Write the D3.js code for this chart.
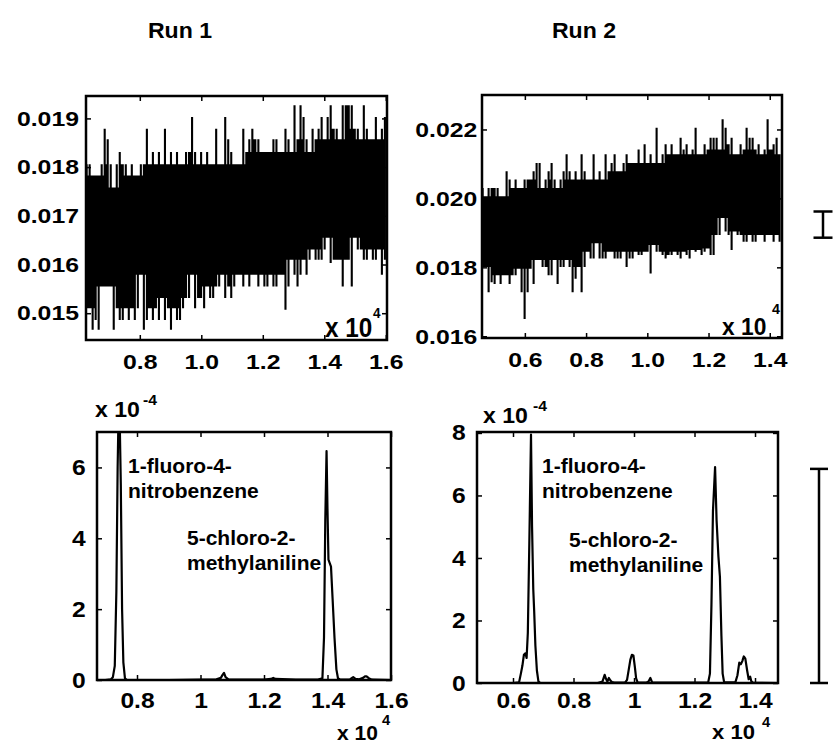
<!DOCTYPE html>
<html><head><meta charset="utf-8">
<script src="https://cdn.jsdelivr.net/npm/d3@7"></script>
<style>
body{margin:0;background:#fff}
svg text{font-family:"Liberation Sans",Arial,Helvetica,sans-serif;font-weight:bold;fill:#000}
</style></head><body>
<svg id="chart" width="835" height="745"></svg>
<script>
// ---------------- DATA ----------------
const titles = ["Run 1", "Run 2"];

// Top row: raw detector signal (x in units of 10^4), sampled at constant step
const run1Sampling = {start: 0.627, step: 0.0098};
const run1Upper = [0.01806,0.01806,0.01783,0.01783,0.01783,0.01806,0.01879,0.01857,0.01806,0.01758,
0.01806,0.01831,0.01806,0.01806,0.01783,0.01806,0.01783,0.01783,0.01806,0.01806,
0.01879,0.01806,0.01831,0.01806,0.01831,0.01806,0.01879,0.01806,0.01831,0.01806,
0.01831,0.01806,0.01806,0.01831,0.01831,0.01903,0.01831,0.01806,0.01831,0.01806,
0.01831,0.01806,0.01806,0.01879,0.01806,0.01806,0.01903,0.01857,0.01831,0.01806,
0.01806,0.01806,0.01879,0.01831,0.01857,0.01879,0.01857,0.01857,0.01831,0.01831,
0.01831,0.01831,0.01857,0.01857,0.01831,0.01831,0.01879,0.01857,0.01831,0.01927,
0.01857,0.01927,0.01903,0.01857,0.01831,0.01879,0.01857,0.01879,0.01903,0.01857,
0.01903,0.01927,0.01879,0.01879,0.01857,0.01927,0.01927,0.01927,0.01927,0.01879,
0.01879,0.01857,0.01927,0.01879,0.01857,0.01857,0.01903,0.01857,0.01879,0.01903];
const run1Lower = [0.0151,0.0151,0.01466,0.01486,0.01466,0.01555,0.01555,0.01555,0.01555,0.01466,
0.0151,0.01486,0.01486,0.0151,0.01486,0.0151,0.01486,0.0151,0.01579,0.01466,
0.01486,0.0151,0.01486,0.0151,0.01486,0.01531,0.01486,0.0151,0.01466,0.0151,
0.01486,0.01486,0.0151,0.01531,0.01531,0.01579,0.0151,0.01531,0.01531,0.0151,
0.01555,0.01531,0.01531,0.01555,0.01555,0.01579,0.01531,0.01555,0.01531,0.01555,
0.01579,0.01579,0.01555,0.01579,0.01555,0.01579,0.01579,0.01555,0.01579,0.01555,
0.01555,0.01579,0.01555,0.01555,0.01579,0.01579,0.01507,0.01555,0.0161,0.01579,
0.01555,0.01579,0.0161,0.01579,0.0161,0.01631,0.0161,0.0161,0.0161,0.01631,
0.01655,0.01603,0.0161,0.0161,0.0161,0.01555,0.0161,0.0161,0.01555,0.01655,
0.01631,0.01631,0.0161,0.0161,0.01631,0.0161,0.0161,0.01631,0.01579,0.0161];

const run2Sampling = {start: 0.462, step: 0.0098};
const run2Upper = [0.0203,0.02006,0.0203,0.0203,0.0203,0.0203,0.02006,0.02006,0.02079,0.02055,
0.0203,0.02055,0.0203,0.0203,0.02055,0.02055,0.02055,0.02079,0.02103,0.02103,
0.0203,0.02055,0.02079,0.02103,0.02055,0.0203,0.02055,0.02079,0.02128,0.02079,
0.02055,0.02079,0.02055,0.02128,0.02079,0.02055,0.02055,0.02128,0.02055,0.02079,
0.02055,0.02128,0.02079,0.02103,0.02128,0.02079,0.02079,0.02103,0.02128,0.02103,
0.02103,0.02103,0.02142,0.02103,0.02157,0.02103,0.02128,0.02103,0.02205,0.02103,
0.02128,0.02157,0.02128,0.02157,0.02128,0.02128,0.02176,0.02142,0.02157,0.02128,
0.02142,0.02205,0.02128,0.02128,0.02157,0.02142,0.02176,0.02176,0.02176,0.02142,
0.0223,0.02205,0.02157,0.02176,0.02128,0.02128,0.02157,0.02142,0.02205,0.02176,
0.02176,0.02142,0.02157,0.02128,0.02142,0.0223,0.02142,0.02157,0.02176,0.02128];
const run2Lower = [0.01801,0.01801,0.01728,0.01757,0.01752,0.01777,0.01752,0.01777,0.01777,0.01752,
0.01777,0.01777,0.01796,0.01728,0.0165,0.01728,0.01796,0.01752,0.01821,0.01821,
0.01801,0.01801,0.01777,0.01777,0.01821,0.01752,0.01801,0.01801,0.01821,0.01801,
0.01728,0.01767,0.01801,0.01728,0.01801,0.01845,0.01826,0.01826,0.0187,0.01826,
0.01826,0.01826,0.01845,0.01845,0.01826,0.01826,0.01826,0.01845,0.01801,0.01826,
0.01826,0.01845,0.01836,0.01836,0.01845,0.01845,0.01782,0.01865,0.01845,0.01845,
0.01836,0.01826,0.01836,0.01836,0.01845,0.01836,0.01826,0.01845,0.01836,0.01826,
0.0185,0.01845,0.0185,0.01836,0.01845,0.01855,0.01836,0.01836,0.01894,0.01894,
0.01943,0.01904,0.01894,0.0185,0.01904,0.01894,0.01894,0.01874,0.01874,0.01894,
0.01874,0.01874,0.01894,0.01894,0.01874,0.01894,0.01894,0.01874,0.01894,0.01874];

// Bottom row: processed chromatograms (x in 10^4, y in 10^-4)
const run1ChromX = [0.674,0.70,0.718,0.724,0.730,0.735,0.739,0.742,0.745,0.749,0.753,0.757,0.762,0.768,0.80,0.90,1.00,1.05,1.064,1.070,1.074,1.079,1.088,1.20,1.222,1.229,1.236,1.30,1.37,1.384,1.389,1.393,1.397,1.400,1.403,1.407,1.411,1.416,1.422,1.428,1.433,1.44,1.47,1.476,1.481,1.488,1.50,1.512,1.518,1.523,1.530,1.54,1.6];
const run1ChromY = [0,0,0.02,0.08,0.4,2.5,6.0,7.6,7.6,5.5,2.0,0.5,0.05,0,0,0,0.01,0.02,0.06,0.15,0.2,0.08,0.02,0.01,0.03,0.06,0.03,0.01,0.01,0.05,1.2,4.5,6.46,4.8,3.4,3.3,3.2,2.3,1.2,0.3,0.05,0.01,0.01,0.05,0.08,0.03,0.02,0.06,0.1,0.1,0.05,0.01,0];
const run2ChromX = [0.481,0.60,0.620,0.626,0.631,0.636,0.641,0.645,0.649,0.654,0.6595,0.663,0.667,0.670,0.674,0.679,0.684,0.690,0.88,0.896,0.903,0.908,0.912,0.917,0.922,0.927,0.935,0.970,0.977,0.983,0.988,0.993,0.998,1.003,1.007,1.012,1.040,1.048,1.054,1.060,1.20,1.245,1.251,1.256,1.261,1.268,1.273,1.279,1.284,1.289,1.293,1.298,1.335,1.342,1.348,1.353,1.358,1.363,1.368,1.374,1.379,1.384,1.388,1.393,1.476];
const run2ChromY = [0,0,0.02,0.3,0.55,0.9,0.95,0.8,1.6,4.5,7.95,5.0,3.0,2.3,1.2,0.4,0.05,0,0,0.05,0.26,0.12,0.05,0.16,0.08,0.03,0.01,0.01,0.1,0.45,0.75,0.9,0.88,0.5,0.15,0.02,0.01,0.05,0.16,0.02,0.01,0.01,0.3,2.5,5.5,6.91,5.2,4.05,3.4,1.5,0.3,0.02,0.02,0.25,0.65,0.6,0.7,0.85,0.78,0.4,0.12,0.2,0.05,0.01,0];

// Tick labels
const topLeftXTicks = [0.8,1.0,1.2,1.4,1.6];
const topLeftYTicks = [0.015,0.016,0.017,0.018,0.019];
const topRightXTicks = [0.6,0.8,1.0,1.2,1.4];
const topRightYTicks = [0.016,0.018,0.020,0.022];
const botLeftXTicks = [0.8,1,1.2,1.4,1.6];
const botLeftYTicks = [0,2,4,6];
const botRightXTicks = [0.6,0.8,1,1.2,1.4];
const botRightYTicks = [0,2,4,6,8];

const peakNames = [["1-fluoro-4-","nitrobenzene"],["5-chloro-2-","methylaniline"]];

// Scale bars (in Run 2 units)
const scaleBarTop = [0.01886, 0.01962];
const scaleBarBottom = [0, 6.85];

// ---------------- DRAW ----------------
const svg = d3.select("#chart");

function panel(cfg) {
  const x = d3.scaleLinear().domain(cfg.xDomain).range([cfg.x0, cfg.x1]);
  const y = d3.scaleLinear().domain(cfg.yDomain).range([cfg.y1, cfg.y0]);
  const g = svg.append("g");
  const id = "clip" + cfg.id;
  svg.append("clipPath").attr("id", id).append("rect")
    .attr("x", cfg.x0).attr("y", cfg.y0).attr("width", cfg.x1 - cfg.x0).attr("height", cfg.y1 - cfg.y0);

  // inward ticks on all sides
  const tl = 5;
  g.append("g").attr("transform", `translate(0,${cfg.y1})`)
    .call(d3.axisBottom(x).tickValues(cfg.xTicks).tickSize(-tl).tickFormat(""))
    .call(a => a.select(".domain").remove());
  g.append("g").attr("transform", `translate(0,${cfg.y0})`)
    .call(d3.axisTop(x).tickValues(cfg.xTicks).tickSize(-tl).tickFormat(""))
    .call(a => a.select(".domain").remove());
  g.append("g").attr("transform", `translate(${cfg.x0},0)`)
    .call(d3.axisLeft(y).tickValues(cfg.yTicks).tickSize(-tl).tickFormat(""))
    .call(a => a.select(".domain").remove());
  g.append("g").attr("transform", `translate(${cfg.x1},0)`)
    .call(d3.axisRight(y).tickValues(cfg.yTicks).tickSize(-tl).tickFormat(""))
    .call(a => a.select(".domain").remove());
  g.selectAll(".tick line").attr("stroke", "#000").attr("stroke-width", 1.5);

  // labels
  const xl = g.append("g").attr("transform", `translate(0,${cfg.y1})`)
    .call(d3.axisBottom(x).tickValues(cfg.xTicks).tickSize(0).tickPadding(cfg.xPad).tickFormat(cfg.xFmt));
  const yl = g.append("g").attr("transform", `translate(${cfg.x0},0)`)
    .call(d3.axisLeft(y).tickValues(cfg.yTicks).tickSize(0).tickPadding(cfg.yPad).tickFormat(cfg.yFmt));
  [xl, yl].forEach(a => {
    a.select(".domain").remove();
    a.selectAll("text").attr("font-size", cfg.fs).attr("fill", "#000")
      .style("font-family", '"Liberation Sans",Arial,sans-serif').style("font-weight", "bold")
      .attr("transform", `scale(${cfg.stretch},1)`);
  });

  // traces
  const tg = g.append("g").attr("clip-path", `url(#${id})`);
  cfg.draw(tg, x, y);

  // frame
  g.append("rect").attr("x", cfg.x0).attr("y", cfg.y0)
    .attr("width", cfg.x1 - cfg.x0).attr("height", cfg.y1 - cfg.y0)
    .attr("fill", "none").attr("stroke", "#000").attr("stroke-width", 2.5);
  return {x, y, g};
}

// dense oscillating trace: a vertical stroke per sample (lower..upper) and a
// connecting stroke between neighbouring samples over their common range
function drawNoise(upper, lower, sampling) {
  return (g, x, y) => {
    const n = upper.length;
    let d = "";
    for (let i = 0; i < n; i++) {
      const t = x(sampling.start + i * sampling.step);
      d += `M${t},${y(lower[i])}V${y(upper[i])}`;
      if (i < n - 1) {
        const w = d3.range(Math.max(0, i - 1), Math.min(n, i + 3));
        const top = d3.min(w, j => upper[j]), bot = d3.max(w, j => lower[j]);
        const tc = x(sampling.start + (i + 0.5) * sampling.step);
        if (top > bot) d += `M${tc},${y(bot)}V${y(top)}`;
      }
    }
    g.append("path").attr("d", d).attr("fill", "none").attr("stroke", "#000").attr("stroke-width", 2.1);
  };
}
function drawChrom(xs, ys) {
  return (g, x, y) => {
    g.append("path").datum(xs.map((v, i) => [v, ys[i]]))
      .attr("d", d3.line().x(d => x(d[0])).y(d => y(d[1])))
      .attr("fill", "none").attr("stroke", "#000").attr("stroke-width", 2.2)
      .attr("stroke-linejoin", "round");
  };
}
const f3 = d3.format(".3f"), f1 = d3.format(".1f"), fg = d3.format("~g");

const pTL = panel({id: "tl", x0: 86, x1: 387, y0: 96, y1: 340, xDomain: [0.625, 1.604], yDomain: [0.01445, 0.01946],
  xTicks: topLeftXTicks, yTicks: topLeftYTicks, xFmt: f1, yFmt: f3, xPad: 14, yPad: 6, fs: 21, stretch: 1.18,
  draw: drawNoise(run1Upper, run1Lower, run1Sampling)});
const pTR = panel({id: "tr", x0: 482, x1: 782, y0: 95, y1: 338, xDomain: [0.46, 1.44], yDomain: [0.01595, 0.0230],
  xTicks: topRightXTicks, yTicks: topRightYTicks, xFmt: f1, yFmt: f3, xPad: 14, yPad: 4, fs: 21, stretch: 1.18,
  draw: drawNoise(run2Upper, run2Lower, run2Sampling)});
const pBL = panel({id: "bl", x0: 97, x1: 391, y0: 432, y1: 680, xDomain: [0.674, 1.6], yDomain: [0, 7],
  xTicks: botLeftXTicks, yTicks: botLeftYTicks, xFmt: fg, yFmt: fg, xPad: 12, yPad: 10, fs: 22, stretch: 1.12,
  draw: drawChrom(run1ChromX, run1ChromY)});
const pBR = panel({id: "br", x0: 477, x1: 778, y0: 432, y1: 683, xDomain: [0.481, 1.476], yDomain: [0, 8.03],
  xTicks: botRightXTicks, yTicks: botRightYTicks, xFmt: fg, yFmt: fg, xPad: 9, yPad: 10, fs: 22, stretch: 1.12,
  draw: drawChrom(run2ChromX, run2ChromY)});

// text helper (horizontally stretched bold text)
function txt(x, y, s, fs, anchor, stretch) {
  const g = svg.append("g").attr("transform", `translate(${x},${y}) scale(${stretch || 1},1)`);
  g.append("text").attr("font-size", fs).attr("text-anchor", anchor || "start").text(s);
}

// titles
txt(180, 38, titles[0], 22, "middle", 1.05);
txt(584, 38, titles[1], 22, "middle", 1.05);

// multipliers: base text, exponent text, offsets
function mult(x, y, base, exp, fs, efs, ex, ey, stretch) {
  txt(x, y, base, fs, "start", stretch);
  txt(x + ex, y + ey, exp, efs, "start", stretch);
}
mult(325, 337, "x 10", "4", 27, 15, 48, -19, 0.9);
mult(722, 335, "x 10", "4", 24, 15, 50, -21, 0.95);
mult(337, 740, "x 10", "4", 20, 14, 45, -15, 1.05);
mult(712, 739, "x 10", "4", 21, 14, 50, -12, 1.05);
mult(95, 417, "x 10", "-4", 22, 15, 48, -12, 1.05);
mult(483, 423, "x 10", "-4", 22, 15, 50, -12, 1.05);

// peak annotations
function annot(x, y, lines) {
  lines.forEach((s, i) => txt(x, y + i * 25, s, 21, "start", 1));
}
annot(128, 473, peakNames[0]);
annot(187, 545, peakNames[1]);
annot(542, 473, peakNames[0]);
annot(569, 547, peakNames[1]);

// scale bars
function scaleBar(xPix, yScale, range, cap) {
  const g = svg.append("g").attr("stroke", "#000").attr("stroke-width", 2.5);
  const a = yScale(range[0]), b = yScale(range[1]);
  g.append("line").attr("x1", xPix).attr("x2", xPix).attr("y1", a).attr("y2", b);
  g.append("line").attr("x1", xPix - cap).attr("x2", xPix + cap).attr("y1", a).attr("y2", a);
  g.append("line").attr("x1", xPix - cap).attr("x2", xPix + cap).attr("y1", b).attr("y2", b);
}
scaleBar(823, pTR.y, scaleBarTop, 9.5);
scaleBar(819, pBR.y, scaleBarBottom, 9);
</script>
</body></html>
